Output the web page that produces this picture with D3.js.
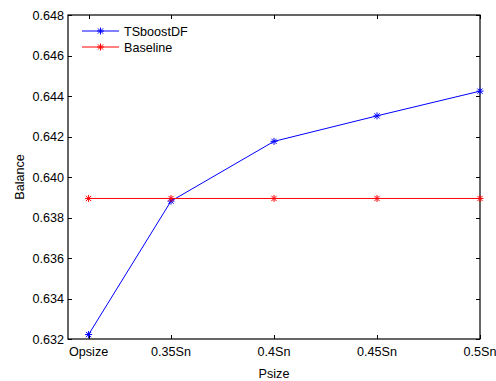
<!DOCTYPE html>
<html>
<head>
<meta charset="utf-8">
<script src="https://cdn.jsdelivr.net/npm/d3@7"></script>
<style>
  body { margin: 0; background: #fff; }
  svg { font-family: "Liberation Sans", Arial, sans-serif; }
</style>
</head>
<body>
<svg id="chart" width="496" height="381"></svg>
<script>
// data
const categories = ['Opsize', '0.35Sn', '0.4Sn', '0.45Sn', '0.5Sn'];
const categoryPos = [0.31, 0.35, 0.40, 0.45, 0.50];   // positions on the numeric x axis
const tsboost = [0.63222, 0.63881, 0.64176, 0.64302, 0.64424];
const baseline = [0.63894, 0.63894, 0.63894, 0.63894, 0.63894];
const yTicks = [0.632, 0.634, 0.636, 0.638, 0.640, 0.642, 0.644, 0.646, 0.648];

const margin = { left: 68, top: 15, right: 16, bottom: 42 };
const width = 496, height = 381;
const fs = 12.6;
const svg = d3.select('#chart');

const x = d3.scaleLinear().domain([0.30, 0.50]).range([margin.left, width - margin.right]);
const y = d3.scaleLinear().domain([0.632, 0.648]).range([height - margin.bottom, margin.top]);

const x0 = x.range()[0], x1 = x.range()[1];
const y0 = y.range()[0], y1 = y.range()[1];

// axes (ticks inward, like matlab)
const tickLen = 4;
const g = svg.append('g').attr('stroke', '#000').attr('stroke-width', 1);

categoryPos.forEach(p => {
  const px = Math.round(x(p)) + 0.5;
  g.append('line').attr('x1', px).attr('x2', px).attr('y1', y0).attr('y2', y0 - tickLen);
  g.append('line').attr('x1', px).attr('x2', px).attr('y1', y1).attr('y2', y1 + tickLen);
});
yTicks.forEach(t => {
  const py = Math.round(y(t)) + 0.5;
  g.append('line').attr('x1', x0).attr('x2', x0 + tickLen).attr('y1', py).attr('y2', py);
  g.append('line').attr('x1', x1).attr('x2', x1 - tickLen).attr('y1', py).attr('y2', py);
});
g.append('rect')
  .attr('x', x0).attr('y', y1).attr('width', x1 - x0).attr('height', y0 - y1)
  .attr('fill', 'none').attr('stroke-width', 1.2);

// tick labels
svg.append('g').selectAll('text')
  .data(yTicks).enter().append('text')
  .attr('x', x0 - 4)
  .attr('y', d => y(d) + 4.5)
  .attr('text-anchor', 'end')
  .attr('font-size', fs)
  .text(d => d.toFixed(3));

svg.append('g').selectAll('text')
  .data(categories).enter().append('text')
  .attr('x', (d, i) => x(categoryPos[i]))
  .attr('y', y0 + 17)
  .attr('text-anchor', 'middle')
  .attr('font-size', fs)
  .text(d => d);

// axis titles
svg.append('text')
  .attr('x', (x0 + x1) / 2)
  .attr('y', 378)
  .attr('text-anchor', 'middle')
  .attr('font-size', fs)
  .text('Psize');
svg.append('text')
  .attr('transform', `translate(24,${(y0 + y1) / 2}) rotate(-90)`)
  .attr('text-anchor', 'middle')
  .attr('font-size', fs)
  .text('Balance');

// asterisk marker
function star(sel, cx, cy, color) {
  const r = 3.5, d = r * 0.75;
  const s = sel.append('g').attr('stroke', color).attr('stroke-width', 1);
  s.append('line').attr('x1', cx - r).attr('x2', cx + r).attr('y1', cy).attr('y2', cy);
  s.append('line').attr('x1', cx).attr('x2', cx).attr('y1', cy - r).attr('y2', cy + r);
  s.append('line').attr('x1', cx - d).attr('x2', cx + d).attr('y1', cy - d).attr('y2', cy + d);
  s.append('line').attr('x1', cx - d).attr('x2', cx + d).attr('y1', cy + d).attr('y2', cy - d);
}

const line = d3.line().x((d, i) => x(categoryPos[i])).y(d => y(d));
const series = [
  { name: 'TSboostDF', values: tsboost, color: '#0000ff' },
  { name: 'Baseline', values: baseline, color: '#ff0000' }
];

series.forEach(s => {
  svg.append('path')
    .datum(s.values)
    .attr('d', line)
    .attr('fill', 'none')
    .attr('stroke', s.color)
    .attr('stroke-width', 1);
  s.values.forEach((v, i) => star(svg, x(categoryPos[i]), y(v), s.color));
});

// legend
series.forEach((s, i) => {
  const ly = 31 + i * 16;
  svg.append('line')
    .attr('x1', 82).attr('x2', 119).attr('y1', ly).attr('y2', ly)
    .attr('stroke', s.color).attr('stroke-width', 1);
  star(svg, 100.5, ly, s.color);
  svg.append('text')
    .attr('x', 124).attr('y', ly + 4.5)
    .attr('font-size', fs)
    .text(s.name);
});
</script>
</body>
</html>
